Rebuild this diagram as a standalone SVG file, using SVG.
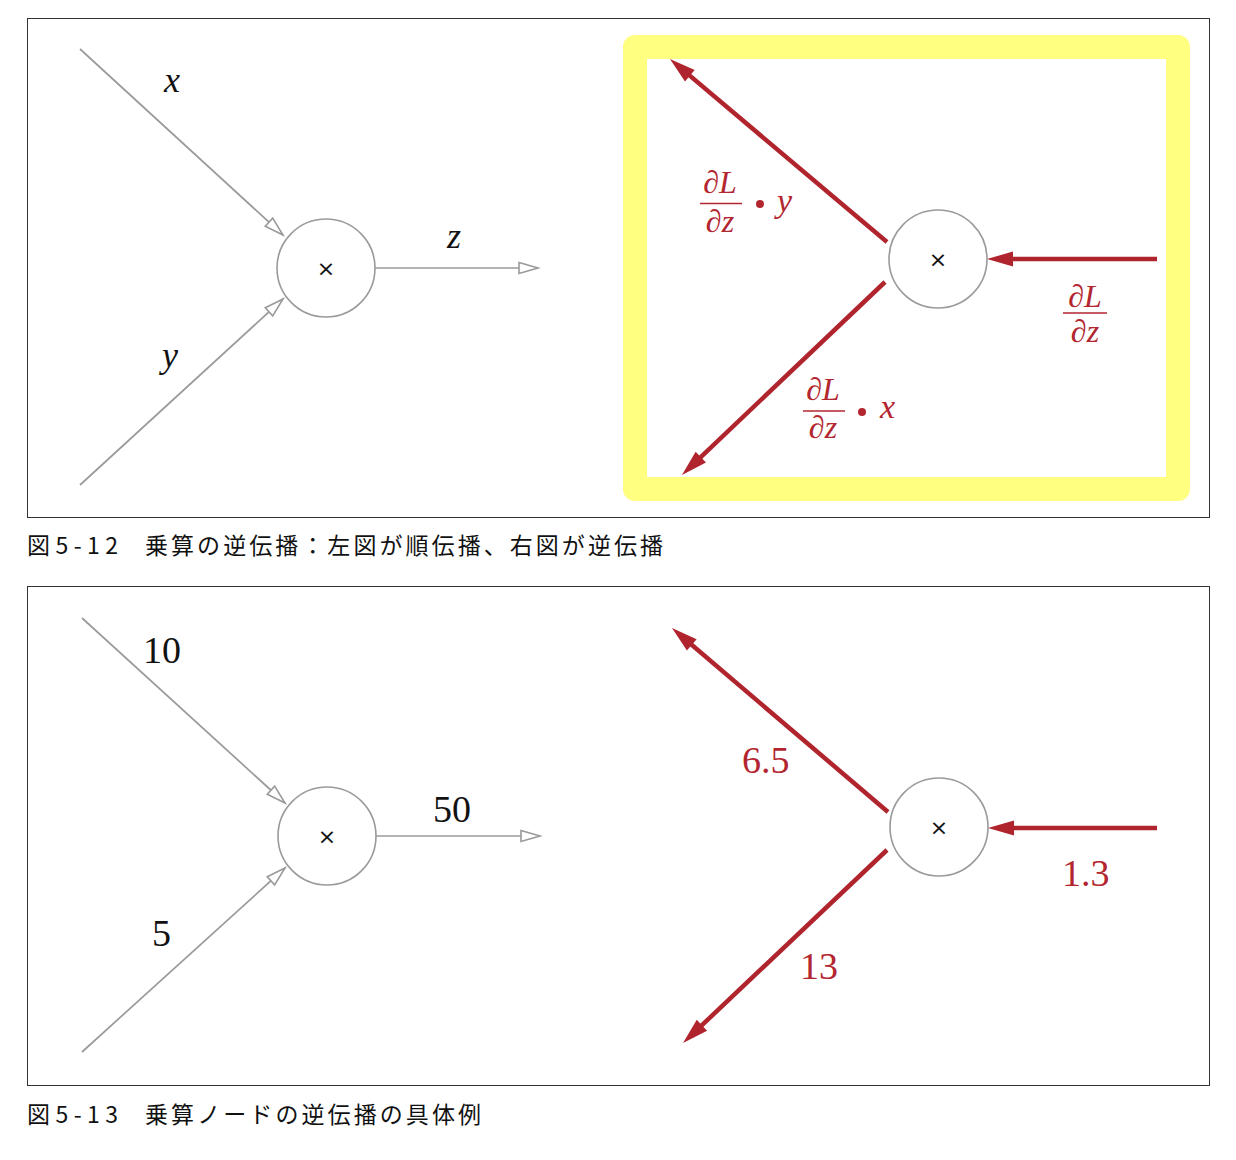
<svg xmlns="http://www.w3.org/2000/svg" width="1236" height="1160" viewBox="0 0 1236 1160">
<defs>
<style>
.frame{fill:none;stroke:#333;stroke-width:1}
.node{fill:#fff;stroke:#9a9a9a;stroke-width:1.6}
.op{font-family:"DejaVu Sans","Liberation Sans",sans-serif;font-size:22px;fill:#111;text-anchor:middle}
.fwd{stroke:#9a9a9a;stroke-width:1.7;fill:none}
.bwd{stroke:#b0242e;stroke-width:4.5;fill:none}
.math{font-family:"Liberation Serif","DejaVu Serif",serif;font-size:38px;fill:#111}
.rmath{font-family:"Liberation Serif","DejaVu Serif",serif;font-size:38px;fill:#b3262f}
.frac{font-family:"Liberation Serif","DejaVu Serif",serif;font-size:32px;fill:#b3262f;text-anchor:middle}
.bar{stroke:#b3262f;stroke-width:1.5}
.it{font-style:italic}
.cap{font-family:"Noto Sans CJK JP","Noto Sans",sans-serif;font-size:23px;fill:#111}
</style>
<marker id="open" markerUnits="userSpaceOnUse" markerWidth="22" markerHeight="14" refX="19" refY="5.5" orient="auto" overflow="visible">
<path d="M0,0 L19,5.5 L0,11 z" fill="#fff" stroke="#9a9a9a" stroke-width="1.6"/>
</marker>
<marker id="solid" markerUnits="userSpaceOnUse" markerWidth="28" markerHeight="16" refX="16" refY="7.5" orient="auto" overflow="visible">
<path d="M0,0 L26,7.5 L0,15 z" fill="#b0242e"/>
</marker>
</defs>
<rect width="1236" height="1160" fill="#fff"/>

<g id="frame-top"><rect class="frame" x="27.5" y="18.5" width="1182" height="499"/></g>
<g id="frame-bottom"><rect class="frame" x="27.5" y="586.5" width="1182" height="499"/></g>
<g id="highlight"><rect x="635" y="47" width="543" height="442" fill="none" stroke="#ffff80" stroke-width="24" stroke-linejoin="round"/></g>

<g id="connectors">
<line class="fwd" x1="80" y1="49" x2="283" y2="235" marker-end="url(#open)"/>
<line class="fwd" x1="80" y1="485" x2="283" y2="299" marker-end="url(#open)"/>
<line class="fwd" x1="375" y1="268" x2="538" y2="268" marker-end="url(#open)"/>
<line class="bwd" x1="1157" y1="259" x2="997" y2="259" marker-end="url(#solid)"/>
<line class="bwd" x1="887" y1="242" x2="677.6" y2="65.4" marker-end="url(#solid)"/>
<line class="bwd" x1="885" y1="282" x2="689.2" y2="468.1" marker-end="url(#solid)"/>

<line class="fwd" x1="82" y1="618" x2="285" y2="803" marker-end="url(#open)"/>
<line class="fwd" x1="82" y1="1052" x2="285" y2="868" marker-end="url(#open)"/>
<line class="fwd" x1="376" y1="836" x2="540" y2="836" marker-end="url(#open)"/>
<line class="bwd" x1="1157" y1="828" x2="998" y2="828" marker-end="url(#solid)"/>
<line class="bwd" x1="888" y1="812" x2="679.6" y2="634.5" marker-end="url(#solid)"/>
<line class="bwd" x1="887" y1="850" x2="690.3" y2="1036.2" marker-end="url(#solid)"/>
</g>

<g id="node-fwd1"><circle class="node" cx="326" cy="268" r="49"/><text class="op" x="326" y="276">×</text></g>
<g id="node-bwd1"><circle class="node" cx="938" cy="259" r="49"/><text class="op" x="938" y="267">×</text></g>
<g id="node-fwd2"><circle class="node" cx="327" cy="836" r="49"/><text class="op" x="327" y="844">×</text></g>
<g id="node-bwd2"><circle class="node" cx="939" cy="827" r="49"/><text class="op" x="939" y="835">×</text></g>

<g id="labels-top">
<text class="math it" x="164" y="92" style="font-size:36px">x</text>
<text class="math it" x="162" y="367" style="font-size:36px">y</text>
<text class="math it" x="447" y="248" style="font-size:36px">z</text>

<text class="frac" x="720" y="193">∂<tspan class="it">L</tspan></text>
<line class="bar" x1="700" y1="203.5" x2="742" y2="203.5"/>
<text class="frac" x="720" y="232">∂<tspan class="it">z</tspan></text>
<circle cx="760" cy="204" r="4" fill="#b3262f"/>
<text class="rmath it" x="777" y="212" style="font-size:34px">y</text>

<text class="frac" x="1085" y="307">∂<tspan class="it">L</tspan></text>
<line class="bar" x1="1063" y1="313" x2="1107" y2="313"/>
<text class="frac" x="1085" y="342">∂<tspan class="it">z</tspan></text>

<text class="frac" x="823" y="400">∂<tspan class="it">L</tspan></text>
<line class="bar" x1="803" y1="411" x2="845" y2="411"/>
<text class="frac" x="823" y="438">∂<tspan class="it">z</tspan></text>
<circle cx="862" cy="412" r="4" fill="#b3262f"/>
<text class="rmath it" x="880" y="418" style="font-size:34px">x</text>
</g>

<g id="labels-bottom">
<text class="math" x="143" y="663">10</text>
<text class="math" x="152" y="946">5</text>
<text class="math" x="433" y="822">50</text>
<text class="rmath" x="742" y="773">6.5</text>
<text class="rmath" x="1062" y="886">1.3</text>
<text class="rmath" x="800" y="979">13</text>
</g>

<g id="captions">
<text class="cap" x="27" y="554" textLength="91" lengthAdjust="spacing">図5-12</text>
<text class="cap" x="145" y="554" textLength="518" lengthAdjust="spacing">乗算の逆伝播：左図が順伝播、右図が逆伝播</text>
<text class="cap" x="27" y="1123" textLength="91" lengthAdjust="spacing">図5-13</text>
<text class="cap" x="145" y="1123" textLength="336" lengthAdjust="spacing">乗算ノードの逆伝播の具体例</text>
</g>
</svg>
